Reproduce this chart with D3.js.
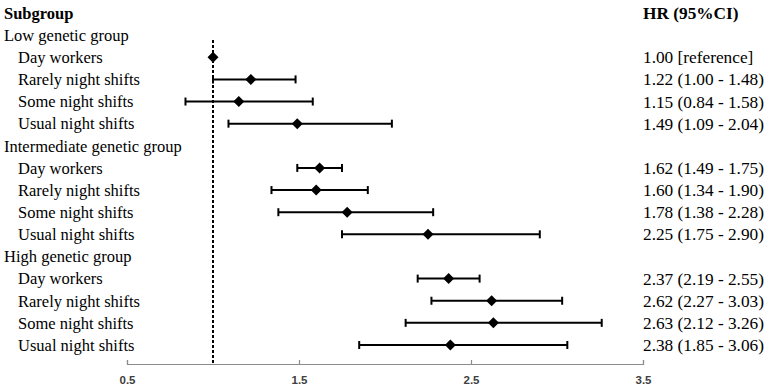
<!DOCTYPE html>
<meta charset="utf-8">
<style>
  body { margin: 0; background: #fff; }
  .lbl { font-family: "Liberation Serif", "Times New Roman", serif; font-size: 16.5px; fill: #000; }
  .rt { font-size: 17.3px; }
  .tick text { font-family: "Liberation Sans", Arial, sans-serif; font-size: 11.5px; font-weight: bold; fill: #404040; }
</style>
<body>
  <script src="https://d3js.org/d3.v7.min.js"></script>
  <script>
    // rows, top to bottom (groups are header rows with no estimate)
    var groups = ["Low genetic group", "Intermediate genetic group", "High genetic group"];
    var subgroups = ["Day workers", "Rarely night shifts", "Some night shifts", "Usual night shifts"];
    var hr = [
      [1.00, 1.22, 1.15, 1.49],
      [1.62, 1.60, 1.78, 2.25],
      [2.37, 2.62, 2.63, 2.38]
    ];
    var lower = [
      [null, 1.00, 0.84, 1.09],
      [1.49, 1.34, 1.38, 1.75],
      [2.19, 2.27, 2.12, 1.85]
    ];
    var upper = [
      [null, 1.48, 1.58, 2.04],
      [1.75, 1.90, 2.28, 2.90],
      [2.55, 3.03, 3.26, 3.06]
    ];
    var xTicks = [0.5, 1.5, 2.5, 3.5];
    var refLine = 1.0;

    var width = 767, height = 390;

    // flatten to rows
    var rows = [{ label: "Subgroup", header: true, right: "HR (95%CI)" }];
    groups.forEach(function (g, gi) {
      rows.push({ label: g, group: true });
      subgroups.forEach(function (s, si) {
        var h = hr[gi][si], lo = lower[gi][si], up = upper[gi][si];
        rows.push({
          label: s, sub: true, hr: h, lo: lo, up: up,
          right: lo == null ? h.toFixed(2) + " [reference]" :
            h.toFixed(2) + " (" + lo.toFixed(2) + " - " + up.toFixed(2) + ")"
        });
      });
    });

    var x = d3.scaleLinear().domain([0.5, 3.5]).range([127, 643]);
    var y = d3.scalePoint().domain(d3.range(rows.length)).range([13, 345]);
    var axisY = 364;

    var svg = d3.select("body").append("svg")
      .attr("width", width)
      .attr("height", height);

    // axis
    var xAxis = d3.axisBottom(x).tickValues(xTicks).tickSize(-4).tickPadding(12)
      .tickFormat(d3.format(".1f"));
    var ax = svg.append("g")
      .attr("transform", "translate(0," + axisY + ")")
      .call(xAxis);
    ax.select(".domain").attr("stroke", "#8c8c8c").attr("stroke-width", 1.2);
    ax.selectAll(".tick line").attr("stroke", "#8c8c8c").attr("stroke-width", 1.2);

    // reference line
    svg.append("line")
      .attr("x1", x(refLine)).attr("x2", x(refLine))
      .attr("y1", 40).attr("y2", axisY)
      .attr("stroke", "#000").attr("stroke-width", 2)
      .attr("stroke-dasharray", "3,2");

    // labels
    var rg = svg.selectAll(".row").data(rows).enter().append("g")
      .attr("transform", function (d, i) { return "translate(0," + y(i) + ")"; });

    rg.append("text")
      .attr("class", "lbl")
      .attr("x", function (d) { return d.sub ? 18 : 4; })
      .attr("dy", "0.35em")
      .style("font-weight", function (d) { return d.header ? "bold" : null; })
      .text(function (d) { return d.label; });

    rg.filter(function (d) { return d.right; }).append("text")
      .attr("class", "lbl rt")
      .attr("x", 643)
      .attr("dy", "0.35em")
      .style("font-weight", function (d) { return d.header ? "bold" : null; })
      .text(function (d) { return d.right; });

    // CI bars
    var ci = rg.filter(function (d) { return d.sub && d.lo != null; });
    ci.append("line")
      .attr("x1", function (d) { return x(d.lo); })
      .attr("x2", function (d) { return x(d.up); })
      .attr("stroke", "#000").attr("stroke-width", 2);
    ["lo", "up"].forEach(function (k) {
      ci.append("line")
        .attr("x1", function (d) { return x(d[k]); })
        .attr("x2", function (d) { return x(d[k]); })
        .attr("y1", -4).attr("y2", 4)
        .attr("stroke", "#000").attr("stroke-width", 2);
    });

    // diamonds
    rg.filter(function (d) { return d.sub; }).append("path")
      .attr("d", "M0,-5.5L5.5,0L0,5.5L-5.5,0Z")
      .attr("transform", function (d) { return "translate(" + x(d.hr) + ",0)"; })
      .attr("fill", "#000");
  </script>
</body>
